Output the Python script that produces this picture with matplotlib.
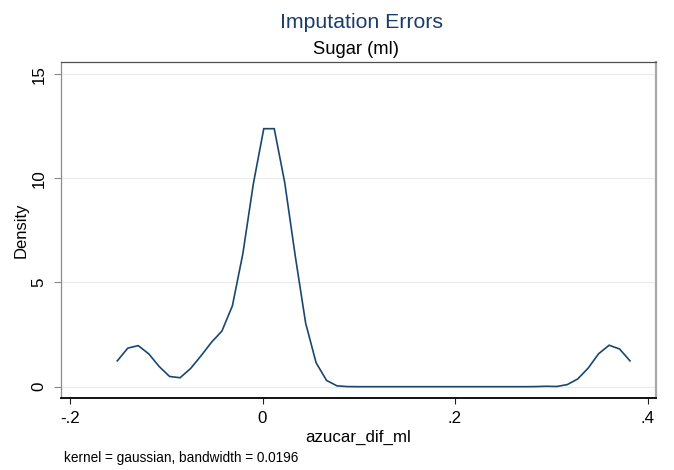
import numpy as np
import matplotlib
matplotlib.use("Agg")
import matplotlib.pyplot as plt

# Kernel density estimate evaluated at 50 points
x_min, x_max, n_pts = -0.1509, 0.3818, 50
density = [1.24, 1.85, 1.97, 1.58, 0.97, 0.49, 0.43, 0.87, 1.48, 2.13,
           2.67, 3.88, 6.38, 9.73, 12.38, 12.38, 9.80, 6.30, 3.05, 1.15,
           0.30, 0.04, 0.005, 0.0, 0.0, 0.0, 0.0, 0.0, 0.0, 0.0,
           0.0, 0.0, 0.0, 0.0, 0.0, 0.0, 0.0, 0.0, 0.0, 0.0,
           0.005, 0.02, 0.01, 0.10, 0.37, 0.89, 1.58, 1.99, 1.81, 1.24]
x_grid = np.linspace(x_min, x_max, n_pts)

x_ticks = [-0.2, 0.0, 0.2, 0.4]
x_tick_labels = ["-.2", "0", ".2", ".4"]
y_ticks = [0, 5, 10, 15]
y_tick_labels = ["0", "5", "10", "15"]

title = "Imputation Errors"
subtitle = "Sugar (ml)"
x_title = "azucar_dif_ml"
y_title = "Density"
note = "kernel = gaussian, bandwidth = 0.0196"

plt.rcParams['font.family'] = ['Liberation Sans', 'DejaVu Sans']

W, H = 674, 470
fig = plt.figure(figsize=(W / 100, H / 100), dpi=100)
fig.patch.set_facecolor("white")

left, right, top, bottom = 60.7, 655.7, 62.0, 397.7
ax = fig.add_axes([left / W, 1 - bottom / H, (right - left) / W, (bottom - top) / H])

navy = "#1a476f"
ax.plot(x_grid, density, color=navy, lw=1.2, solid_joinstyle="miter")

ax.set_xlim(-0.2097, 0.4085)
ax.set_ylim(-0.528, 15.58)

ax.set_xticks(x_ticks)
ax.set_xticklabels(x_tick_labels)
ax.set_yticks(y_ticks)
ax.set_yticklabels(y_tick_labels, rotation=90, va="center")

for y in y_ticks:
    ax.axhline(y, color="#ebebeb", lw=0.9, zorder=0)

ax.tick_params(axis="x", direction="out", length=4.2, width=0.8, color="#222222",
               labelsize=12.2, pad=5.5, labelcolor="black")
ax.tick_params(axis="y", direction="out", length=4.8, width=0.8, color="#888888",
               labelsize=12.2, pad=5.5, labelcolor="black")

ax.spines["left"].set_color("#8c8c8c")
ax.spines["left"].set_linewidth(0.9)
ax.spines["bottom"].set_color("#111111")
ax.spines["bottom"].set_linewidth(1.4)
ax.spines["top"].set_color("#505050")
ax.spines["top"].set_linewidth(0.9)
ax.spines["right"].set_color("#a8a8a8")
ax.spines["right"].set_linewidth(1.6)

ax.set_xlabel(x_title, fontsize=12.2, labelpad=3)
ax.set_ylabel(y_title, fontsize=12.0, labelpad=2)

fig.text(361.5 / W, 1 - 23 / H, title, ha="center", va="center", fontsize=15.3, color="#1a3d6b")
fig.text(356 / W, 1 - 49 / H, subtitle, ha="center", va="center", fontsize=13.2, color="black")
fig.text(64 / W, 1 - 458 / H, note, ha="left", va="center", fontsize=9.8, color="black")

fig.savefig("out.png", dpi=100, facecolor="white")
